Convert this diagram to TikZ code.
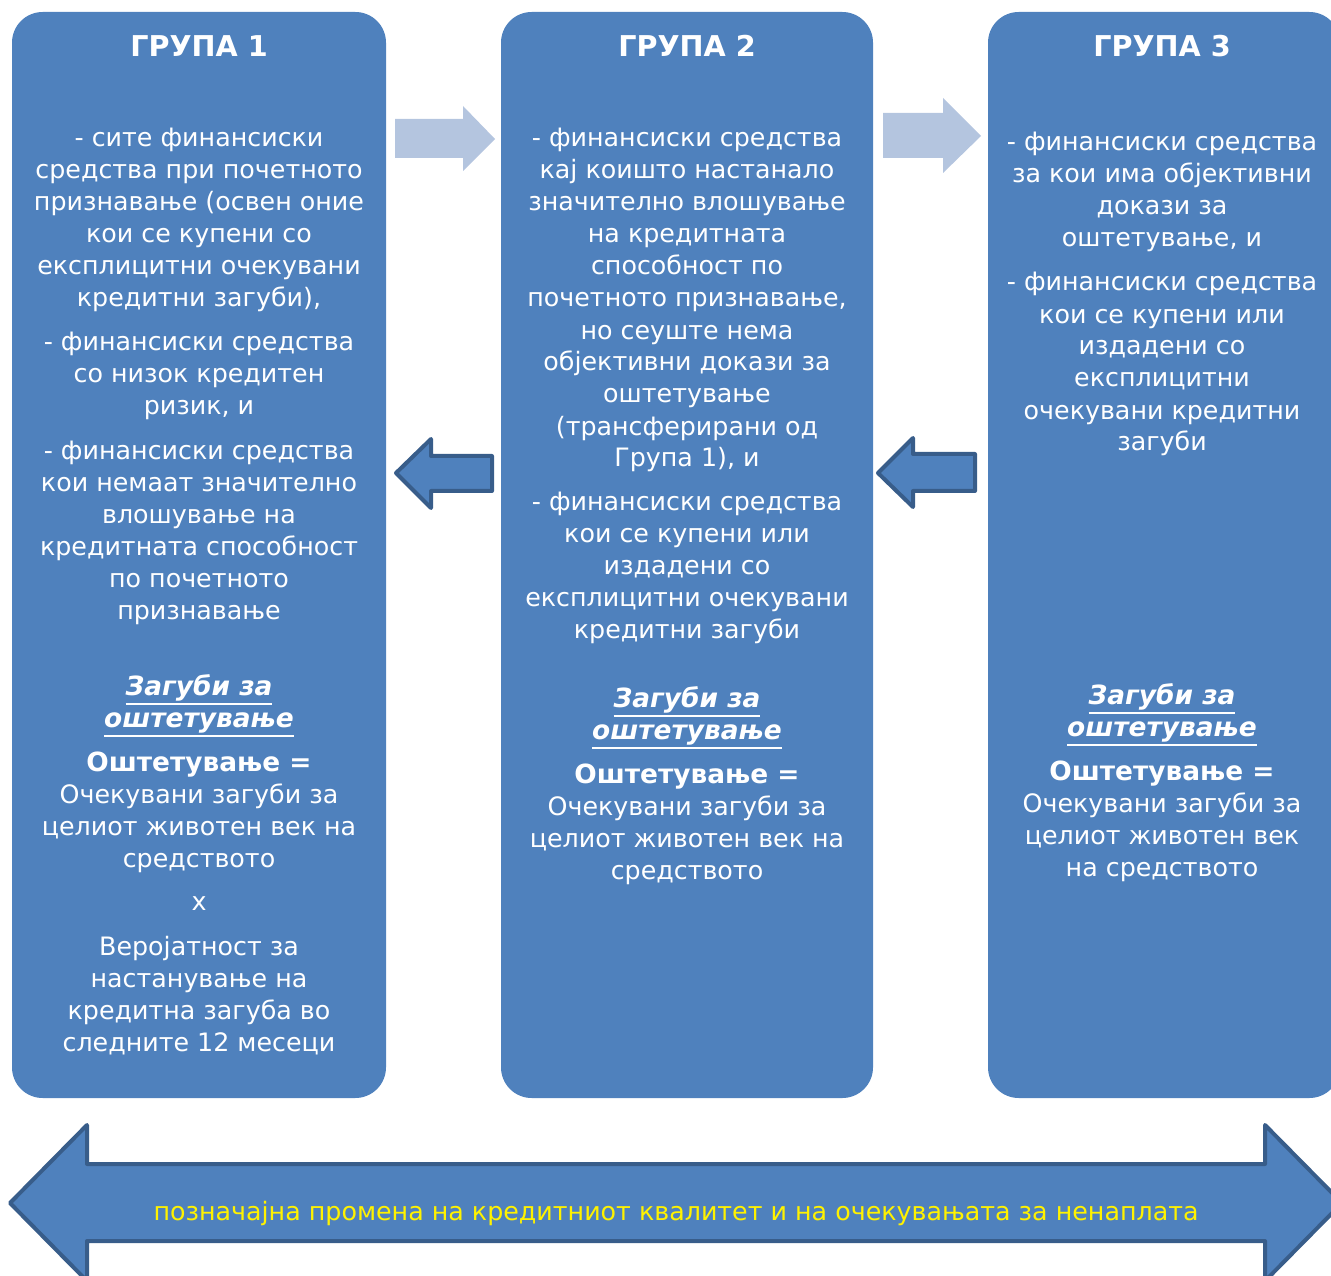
\documentclass[tikz,border=0pt]{standalone}
\usepackage{fontspec}
\setmainfont{DejaVu Sans}
\usepackage{tikz}
\usetikzlibrary{positioning, calc}
\definecolor{grpblue}{HTML}{4F81BD}
\definecolor{grpline}{HTML}{385D8A}
\definecolor{lightarr}{HTML}{B4C5DF}
\tikzstyle{grp} = [rectangle, rounded corners=23pt, fill=grpblue, minimum height=814.5pt]
\tikzstyle{titletxt} = [text=white, inner sep=0pt, anchor=base, font=\fontsize{21.5}{26}\selectfont\bfseries]
\tikzstyle{bodytxt} = [text=white, align=center, inner sep=0pt, anchor=base, font=\fontsize{19}{24}\selectfont]
\tikzstyle{losstxt} = [bodytxt, font=\fontsize{19.8}{24}\selectfont\bfseries\itshape]
\tikzstyle{fwdarrow} = [fill=lightarr]
\tikzstyle{backarrow} = [fill=grpblue, draw=grpline, line width=3pt, line join=round]
\newcommand{\impline}{{\fontsize{19.8}{24}\selectfont\bfseries Оштетување =}}
\newcommand{\thickul}[1]{\vtop{\hbox{#1}\kern1.6pt\hrule height 1.4pt}}

\begin{document}
\begin{tikzpicture}[x=0.75pt, y=-0.75pt]
\useasboundingbox (0,0) rectangle (1331,1276);
\clip (0,0) rectangle (1331,1276);

% Groups
\node (g1) [grp, minimum width=280.5pt] at (199,555) {};
\node (g2) [grp, minimum width=279pt] at (687,555) {};
\node (g3) [grp, minimum width=264pt] at (1164,555) {};

\node (t1) [titletxt] at (199,57) {ГРУПА 1};
\node (t2) [titletxt] at (687,57) {ГРУПА 2};
\node (t3) [titletxt] at (1162,57) {ГРУПА 3};

% Group 1 text (base = last line)
\node (p1a) [bodytxt] at (199,307) {- сите финансиски\\средства при почетното\\признавање (освен оние\\кои се купени со\\експлицитни очекувани\\кредитни загуби),};
\node (p1b) [bodytxt] at (199,415) {- финансиски средства\\со низок кредитен\\ризик, и};
\node (p1c) [bodytxt] at (199,619) {- финансиски средства\\кои немаат значително\\влошување на\\кредитната способност\\по почетното\\признавање};
\node (l1) [losstxt] at (199,727) {\thickul{Загуби за}\\\thickul{оштетување}};
\node (i1) [bodytxt] at (199,867) {\impline\\Очекувани загуби за\\целиот животен век на\\средството};
\node (x1) [bodytxt] at (199,910) {x};
\node (v1) [bodytxt] at (199,1051) {Веројатност за\\настанување на\\кредитна загуба во\\следните 12 месеци};

% Group 2 text
\node (p2a) [bodytxt] at (687,467) {- финансиски средства\\кај коишто настанало\\значително влошување\\на кредитната\\способност по\\почетното признавање,\\но сеуште нема\\објективни докази за\\оштетување\\(трансферирани од\\Група 1), и};
\node (p2b) [bodytxt] at (687,638) {- финансиски средства\\кои се купени или\\издадени со\\експлицитни очекувани\\кредитни загуби};
\node (l2) [losstxt] at (687,739) {\thickul{Загуби за}\\\thickul{оштетување}};
\node (i2) [bodytxt] at (687,879) {\impline\\Очекувани загуби за\\целиот животен век на\\средството};

% Group 3 text
\node (p3a) [bodytxt] at (1162,247) {- финансиски средства\\за кои има објективни\\докази за\\оштетување, и};
\node (p3b) [bodytxt] at (1162,451) {- финансиски средства\\кои се купени или\\издадени со\\експлицитни\\очекувани кредитни\\загуби};
\node (l3) [losstxt] at (1162,736) {\thickul{Загуби за}\\\thickul{оштетување}};
\node (i3) [bodytxt] at (1162,876) {\impline\\Очекувани загуби за\\целиот животен век\\на средството};

% Arrows
\fill [fwdarrow] (395,119) -- (463,119) -- (463,106) -- (495,139) -- (463,171) -- (463,158) -- (395,158) -- cycle;
\fill [fwdarrow] (883,113) -- (943,113) -- (943,98) -- (981,136) -- (943,173) -- (943,158) -- (883,158) -- cycle;
\draw [backarrow] (396,473) -- (431,439) -- (431,456) -- (492,456) -- (492,491) -- (431,491) -- (431,508) -- cycle;
\draw [backarrow] (878,473) -- (913,438) -- (913,454) -- (975,454) -- (975,491) -- (913,491) -- (913,507) -- cycle;

% Bottom arrow
\draw [backarrow] (10,1203) -- (87,1125) -- (87,1164) -- (1265,1164) -- (1265,1125) -- (1342,1203) -- (1265,1281) -- (1265,1241) -- (87,1241) -- (87,1281) -- cycle;
\node (qual) [bodytxt, text=yellow] at (676,1220) {позначајна промена на кредитниот квалитет и на очекувањата за ненаплата};

\end{tikzpicture}
\end{document}
